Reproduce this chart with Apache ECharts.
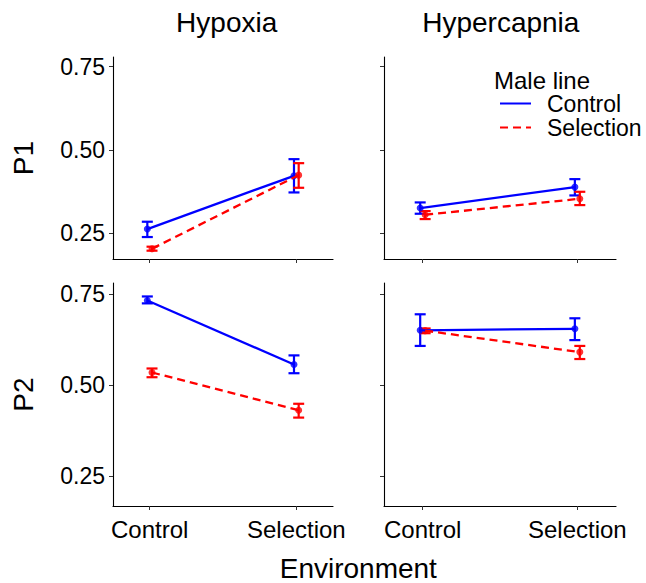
<!DOCTYPE html>
<html>
<head>
<meta charset="utf-8">
<script src="https://cdn.jsdelivr.net/npm/echarts@6/dist/echarts.min.js"></script>
<style>
  html, body { margin: 0; padding: 0; background: #fff; }
  #chart { width: 646px; height: 583px; }
</style>
</head>
<body>
<div id="chart"></div>
<script>
// panels: Hypoxia P1, Hypercapnia P1, Hypoxia P2, Hypercapnia P2
var envCats = ['Control', 'Selection']
var envPos = [1, 2]
var colTitles = ['Hypoxia', 'Hypercapnia']
var rowTitles = ['P1', 'P2']
var yTicks = [0.25, 0.50, 0.75]

// Male line = Control (blue)
var ctrlMean = [[0.262, 0.422], [0.325, 0.388], [0.733, 0.557], [0.651, 0.655]]
var ctrlLow  = [[0.238, 0.372], [0.308, 0.363], [0.725, 0.533], [0.608, 0.624]]
var ctrlHigh = [[0.284, 0.472], [0.342, 0.412], [0.744, 0.582], [0.695, 0.684]]

// Male line = Selection (red)
var selMean = [[0.203, 0.424], [0.305, 0.353], [0.535, 0.431], [0.650, 0.591]]
var selLow  = [[0.197, 0.386], [0.292, 0.334], [0.522, 0.411], [0.643, 0.572]]
var selHigh = [[0.209, 0.460], [0.316, 0.374], [0.546, 0.449], [0.656, 0.608]]

var dodge = 0.016
var font = "'Liberation Sans', Arial, sans-serif"
var blue = '#0000FF'
var red = '#FF0000'

var grids = [
  { left: 113, top: 57, width: 220, height: 202 },
  { left: 384, top: 57, width: 232, height: 202 },
  { left: 113, top: 283, width: 220, height: 223 },
  { left: 384, top: 283, width: 232, height: 223 }
]
var yRange = [[0.172, 0.779], [0.172, 0.779], [0.168, 0.781], [0.168, 0.781]]

function errorBar(color) {
  return function (params, api) {
    var x = api.value(0)
    var lo = api.coord([x, api.value(1)])
    var hi = api.coord([x, api.value(2)])
    var hw = 5.5
    var st = { stroke: color, lineWidth: 2.2 }
    return {
      type: 'group',
      children: [
        { type: 'line', shape: { x1: lo[0], y1: lo[1], x2: hi[0], y2: hi[1] }, style: st },
        { type: 'line', shape: { x1: lo[0] - hw, y1: lo[1], x2: lo[0] + hw, y2: lo[1] }, style: st },
        { type: 'line', shape: { x1: hi[0] - hw, y1: hi[1], x2: hi[0] + hw, y2: hi[1] }, style: st }
      ]
    }
  }
}

var xAxes = [], yAxes = [], series = []
grids.forEach(function (g, i) {
  var bottomRow = i >= 2
  var leftCol = i % 2 === 0
  xAxes.push({
    gridIndex: i, type: 'value', min: 0.75, max: 2.25,
    axisLine: { show: true, lineStyle: { color: '#000', width: 1.1 } },
    axisTick: { show: true, customValues: envPos, length: 4, lineStyle: { color: '#333', width: 1 } },
    axisLabel: {
      show: bottomRow, customValues: envPos, margin: 11,
      color: '#000', fontSize: 24, fontFamily: font,
      formatter: function (v) { return envCats[Math.round(v) - 1] }
    },
    splitLine: { show: false }
  })
  yAxes.push({
    gridIndex: i, type: 'value', min: yRange[i][0], max: yRange[i][1],
    name: leftCol ? rowTitles[i >> 1] : '',
    nameLocation: 'middle', nameGap: 76, nameRotate: 90,
    nameTextStyle: { color: '#000', fontSize: 28, fontFamily: font },
    axisLine: { show: true, lineStyle: { color: '#000', width: 1.1 } },
    axisTick: { show: true, customValues: yTicks, length: 4, lineStyle: { color: '#333', width: 1 } },
    axisLabel: {
      show: leftCol, customValues: yTicks, margin: 8,
      color: '#000', fontSize: 23, fontFamily: font,
      formatter: function (v) { return v.toFixed(2) }
    },
    splitLine: { show: false }
  })

  var cx = envPos.map(function (p) { return p - dodge })
  var sx = envPos.map(function (p) { return p + dodge })
  series.push({
    type: 'custom', xAxisIndex: i, yAxisIndex: i, silent: true,
    renderItem: errorBar(blue), encode: { x: 0, y: [1, 2] },
    data: cx.map(function (x, k) { return [x, ctrlLow[i][k], ctrlHigh[i][k]] })
  })
  series.push({
    type: 'custom', xAxisIndex: i, yAxisIndex: i, silent: true,
    renderItem: errorBar(red), encode: { x: 0, y: [1, 2] },
    data: sx.map(function (x, k) { return [x, selLow[i][k], selHigh[i][k]] })
  })
  series.push({
    name: 'Control', type: 'line', xAxisIndex: i, yAxisIndex: i,
    symbol: 'none', silent: true,
    lineStyle: { color: blue, width: 2.3, type: 'solid' }, itemStyle: { color: blue },
    data: cx.map(function (x, k) { return [x, ctrlMean[i][k]] })
  })
  series.push({
    name: 'Selection', type: 'line', xAxisIndex: i, yAxisIndex: i,
    symbol: 'none', silent: true,
    lineStyle: { color: red, width: 2.3, type: [8, 5] }, itemStyle: { color: red },
    data: sx.map(function (x, k) { return [x, selMean[i][k]] })
  })
  series.push({
    type: 'scatter', xAxisIndex: i, yAxisIndex: i, silent: true,
    symbol: 'circle', symbolSize: 7, itemStyle: { color: blue },
    data: cx.map(function (x, k) { return [x, ctrlMean[i][k]] })
  })
  series.push({
    type: 'scatter', xAxisIndex: i, yAxisIndex: i, silent: true,
    symbol: 'circle', symbolSize: 7, itemStyle: { color: red },
    data: sx.map(function (x, k) { return [x, selMean[i][k]] })
  })
})

var option = {
  backgroundColor: '#fff',
  animation: false,
  grid: grids,
  xAxis: xAxes,
  yAxis: yAxes,
  series: series,
  legend: {
    data: ['Control', 'Selection'],
    orient: 'vertical', left: 499, top: 92, padding: 0,
    itemWidth: 31, itemHeight: 14, itemGap: 1,
    selectedMode: false,
    itemStyle: { color: 'transparent', borderWidth: 0, opacity: 0 },
    textStyle: { color: '#000', fontSize: 23, fontFamily: font, lineHeight: 23, padding: [0, 0, 0, 11] }
  },
  graphic: [
    { type: 'text', x: 226.7, y: 22.5, style: { text: colTitles[0], fill: '#000', font: '28px ' + font, textAlign: 'center', textVerticalAlign: 'middle' } },
    { type: 'text', x: 500.8, y: 22.5, style: { text: colTitles[1], fill: '#000', font: '28px ' + font, textAlign: 'center', textVerticalAlign: 'middle' } },
    { type: 'text', x: 494, y: 80, style: { text: 'Male line', fill: '#000', font: '24px ' + font, textAlign: 'left', textVerticalAlign: 'middle' } },
    { type: 'text', x: 358.3, y: 568, style: { text: 'Environment', fill: '#000', font: '28px ' + font, textAlign: 'center', textVerticalAlign: 'middle' } }
  ]
}

var chart = echarts.init(document.getElementById('chart'), null, { renderer: 'svg' })
chart.setOption(option)
</script>
</body>
</html>
